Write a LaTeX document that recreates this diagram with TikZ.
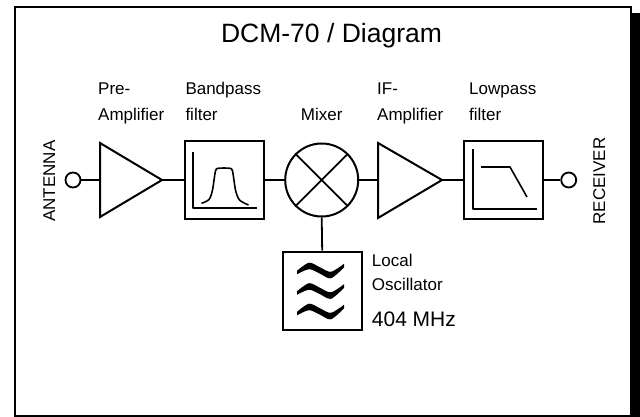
\documentclass[tikz,border=0pt]{standalone}
\usepackage{fontspec}
\setmainfont{Liberation Sans}
\begin{document}
\begin{tikzpicture}[x=1pt,y=-1pt,
  wire/.style={line width=1.8pt},
  blockbox/.style={draw,line width=2pt,minimum width=79pt,minimum height=78pt,inner sep=0pt},
  port/.style={draw,circle,line width=1.8pt,minimum size=15pt,inner sep=0pt},
  lbl/.style={font=\fontsize{17}{20}\selectfont,anchor=base west,inner sep=0pt},
  curve/.style={line width=1.6pt,line join=round},
  amp/.style={line width=2pt,line join=miter}]
\useasboundingbox (0,0) rectangle (640,417);
% frame with shadow
\fill (631,13) rectangle (640,417);
\draw[line width=2pt] (15,7.5) rectangle (631,415.5);
\node[font=\fontsize{26.5}{30}\selectfont,anchor=base,inner sep=0pt] (title) at (331.5,43) {DCM-70 / Diagram};
% ports
\node[port] (ant) at (73,180) {};
\node[port] (rcv) at (568.7,180) {};
% pre-amplifier
\draw[amp] (100,143) -- (162,180) -- (100,217) -- cycle;
\coordinate (pa-in) at (100,180);
\coordinate (pa-out) at (162,180);
% bandpass
\node[blockbox] (bp) at (224.5,180) {};
\draw[curve] (193,152) -- (193,208) -- (257,208);
\draw[curve] plot[smooth,tension=0.5] coordinates {(201.5,203.3) (209,199.5) (212.5,190) (215.5,171) (218.5,168.3) (229.5,168.3) (232.5,171) (235.5,190) (239.5,200) (248.5,205)};
% mixer
\node[draw,circle,line width=2pt,minimum size=73pt,inner sep=0pt] (mx) at (321.7,180) {};
\draw[line width=1.8pt] (mx.45) -- (mx.225) (mx.135) -- (mx.-45);
% IF amplifier
\draw[amp] (378,143) -- (442,180) -- (378,218) -- cycle;
\coordinate (ifa-in) at (378,180);
\coordinate (ifa-out) at (442,180);
% lowpass
\node[blockbox] (lp) at (503.3,180) {};
\draw[curve] (473,149) -- (473,209) -- (537,209);
\draw[curve] (481,167) -- (510,167) -- (527,197);
% local oscillator
\node[blockbox] (lo) at (322.2,290.5) {};
\foreach \c in {270.5,291,311.5}{
  \fill plot[smooth] coordinates {(297,\c+0.3) (309,\c-7.8) (320,\c-3.2) (331,\c+1.3) (344,\c-6.8)}
     -- plot[smooth] coordinates {(344,\c-3.2) (331,\c+7.8) (320,\c+3.2) (309,\c-1.3) (297,\c+3.8)} -- cycle;
}
% wires
\draw[wire] (ant.east) -- (pa-in);
\draw[wire] (pa-out) -- (bp.west);
\draw[wire] (bp.east) -- (mx.west);
\draw[wire] (mx.east) -- (ifa-in);
\draw[wire] (ifa-out) -- (lp.west);
\draw[wire] (lp.east) -- (rcv.west);
\draw[wire] (mx.south) -- (lo.north);
% labels
\node[lbl] (lpa1) at (98,95) {Pre-};
\node[lbl] (lpa2) at (98,120.7) {Amplifier};
\node[lbl] (lbp1) at (185.3,95) {Bandpass};
\node[lbl] (lbp2) at (185.3,120.7) {filter};
\node[lbl] (lmx) at (300.7,121) {Mixer};
\node[lbl] (lif1) at (377,95) {IF-};
\node[lbl] (lif2) at (377,120.7) {Amplifier};
\node[lbl] (llp1) at (469,95) {Lowpass};
\node[lbl] (llp2) at (469,120.7) {filter};
\node[lbl] (llo1) at (371.7,266) {Local};
\node[lbl] (llo2) at (371.7,290) {Oscillator};
\node[lbl,font=\fontsize{21}{24}\selectfont] (llo3) at (371.7,326.7) {404 MHz};
\node[lbl,anchor=base,rotate=90] (lant) at (55,181) {ANTENNA};
\node[lbl,anchor=base,rotate=90] (lrcv) at (605,181) {RECEIVER};
\end{tikzpicture}
\end{document}
